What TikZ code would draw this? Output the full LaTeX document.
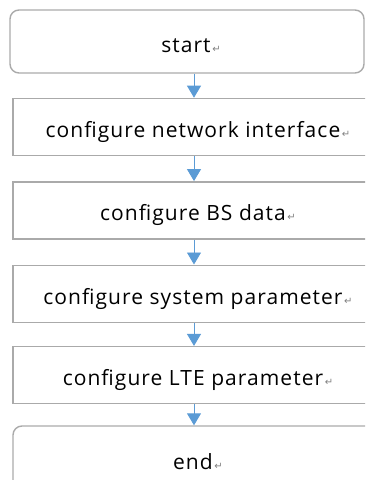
\documentclass[tikz,border=0pt]{standalone}
\usepackage{fontspec}
\setmainfont{Open Sans}[LetterSpace=5]
\newfontfamily\markfont{DejaVu Sans}
\usetikzlibrary{positioning, arrows.meta}
\definecolor{boxgray}{RGB}{170,170,170}
\definecolor{arrowblue}{RGB}{91,155,213}
\newcommand{\retmark}{{\markfont\color{gray}\fontsize{10}{10}\selectfont\,↵}}
\tikzset{
         mystep/.style={draw=boxgray, line width=1.4pt, minimum width=370pt, minimum height=57pt, inner sep=0pt,
                        text height=25pt, text depth=4pt, font=\fontsize{21}{24}\selectfont},
         myterm/.style={mystep, rounded corners=9pt},
         myarrow/.style={draw=arrowblue, line width=0.9pt, -{Triangle[width=14pt,length=12pt]}}
      }

\begin{document}
\begin{tikzpicture}[node distance=24pt]
\useasboundingbox (0,0) rectangle (365pt,-480pt);
\clip (0,0) rectangle (365pt,-480pt);
\node[myterm, minimum width=354pt, minimum height=63pt] (start) at (187pt,-41.5pt) {\hspace*{8pt}start\retmark};
\node[mystep, below=24pt of start, xshift=11pt] (netif) {configure network interface\retmark};
\node[mystep, below=25pt of netif] (bsdata) {configure BS data\retmark};
\node[mystep, below=25pt of bsdata] (syspar) {configure system parameter\retmark};
\node[mystep, below=23pt of syspar] (ltepar) {configure LTE parameter\retmark};
\node[myterm, below=21pt of ltepar, minimum height=70pt, text height=20pt] (finish) {end\retmark};

% arrows run down one line
\coordinate (axis) at (194pt,0);
\draw[myarrow] (start.south -| axis) -- (netif.north -| axis);
\draw[myarrow] (netif.south -| axis) -- (bsdata.north -| axis);
\draw[myarrow] (bsdata.south -| axis) -- (syspar.north -| axis);
\draw[myarrow] (syspar.south -| axis) -- (ltepar.north -| axis);
\draw[myarrow] (ltepar.south -| axis) -- (finish.north -| axis);
\end{tikzpicture}
\end{document}
